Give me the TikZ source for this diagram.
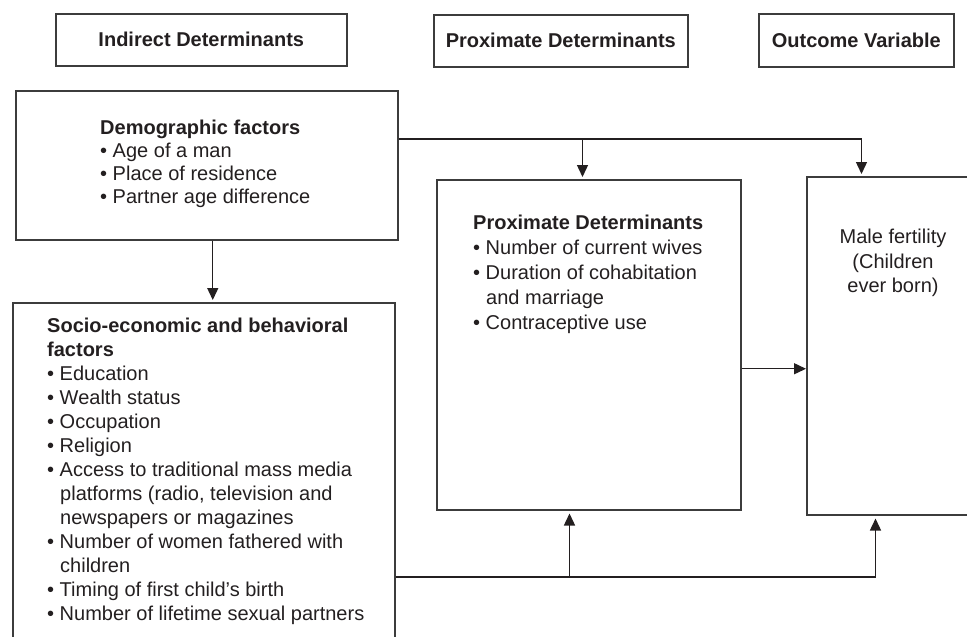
\documentclass[tikz,border=0pt]{standalone}
\usepackage{fontspec}
\setmainfont{Liberation Sans}
\usetikzlibrary{arrows.meta,calc}
\definecolor{ink}{HTML}{231F20}
\definecolor{edge}{HTML}{3C3C3C}
\tikzset{
  hbox/.style={draw=edge, line width=1.6pt, inner sep=0pt, anchor=north west,
    font=\fontsize{20}{24}\selectfont\bfseries, text=ink},
  panel/.style={draw=edge, line width=1.5pt, inner sep=0pt, anchor=north west},
  txt/.style={inner sep=0pt, text=ink, anchor=base west, font=\fontsize{20}{24}\selectfont},
  conn/.style={draw=ink, line width=1.4pt},
  arr/.style={conn, -{Triangle[width=11pt,length=12pt]}, shorten >=2pt},
}
\begin{document}
\begin{tikzpicture}[x=1pt,y=-1pt]
\useasboundingbox (0,0) rectangle (967,637);
\clip (0,0) rectangle (967,637);

% header boxes
\node[hbox, minimum width=291pt, minimum height=52pt] (h1) at (55,13) {Indirect Determinants};
\node[hbox, minimum width=254pt, minimum height=52pt] (h2) at (433,14) {Proximate Determinants};
\node[hbox, minimum width=195pt, minimum height=53pt] (h3) at (758,13) {Outcome Variable};

% panels
\node[panel, minimum width=382pt, minimum height=149pt] (demo) at (15,90) {};
\node[panel, minimum width=382pt, minimum height=400pt] (socio) at (12,302) {};
\node[panel, minimum width=304pt, minimum height=330pt] (prox) at (436,179) {};
\node[panel, minimum width=250pt, minimum height=338pt] (fert) at (806,176) {};

% texts
\node[txt] (demotxt) at (100,134) {\parbox[t]{280pt}{\fontsize{20}{23}\selectfont\raggedright
  \textbf{Demographic factors}\\
  • Age of a man\\
  • Place of residence\\
  • Partner age difference}};

\node[txt] (proxtxt) at (473,229.5) {\parbox[t]{262pt}{\fontsize{20}{25}\selectfont\raggedright
  \textbf{Proximate Determinants}\\
  • Number of current wives\\
  • Duration of cohabitation\\
  \hspace*{13pt}and marriage\\
  • Contraceptive use}};

\node[txt, anchor=base] (ferttxt) at (893,243.5) {\parbox[t]{150pt}{\fontsize{20}{24.5}\selectfont\centering
  Male fertility\\
  (Children\\
  ever born)}};

\node[txt] (sociotxt) at (47,332) {\parbox[t]{340pt}{\fontsize{20}{24}\selectfont\raggedright
  \textbf{Socio-economic and behavioral}\\
  \textbf{factors}\\
  • Education\\
  • Wealth status\\
  • Occupation\\
  • Religion\\
  • Access to traditional mass media\\
  \hspace*{13pt}platforms (radio, television and\\
  \hspace*{13pt}newspapers or magazines\\
  • Number of women fathered with\\
  \hspace*{13pt}children\\
  • Timing of first child’s birth\\
  • Number of lifetime sexual partners}};

% connectors
\draw[arr] ([xshift=6pt]demo.south) -- ([xshift=6pt]demo.south |- socio.north);

\coordinate (tl) at ([yshift=-49pt]demo.north east);
\coordinate (tm) at ($(tl)+(184,0)$);
\coordinate (tr) at ($(tl)+(463,0)$);
\draw[conn] (tl) -- (tr);
\draw[arr] (tm) -- (tm |- prox.north);
\draw[arr] (tr) -- (tr |- fert.north);

\draw[arr, shorten >=0pt] ([yshift=-24pt]prox.east) -- ([yshift=-24pt]prox.east -| fert.west);

\coordinate (bl) at ([yshift=-275pt]socio.north east);
\coordinate (bm) at ($(bl)+(174,0)$);
\coordinate (br) at ($(bl)+(480,0)$);
\draw[conn] (bl) -- (br);
\draw[arr, shorten >=3pt] (bm) -- (bm |- prox.south);
\draw[arr, shorten >=3pt] (br) -- (br |- fert.south);
\end{tikzpicture}
\end{document}
